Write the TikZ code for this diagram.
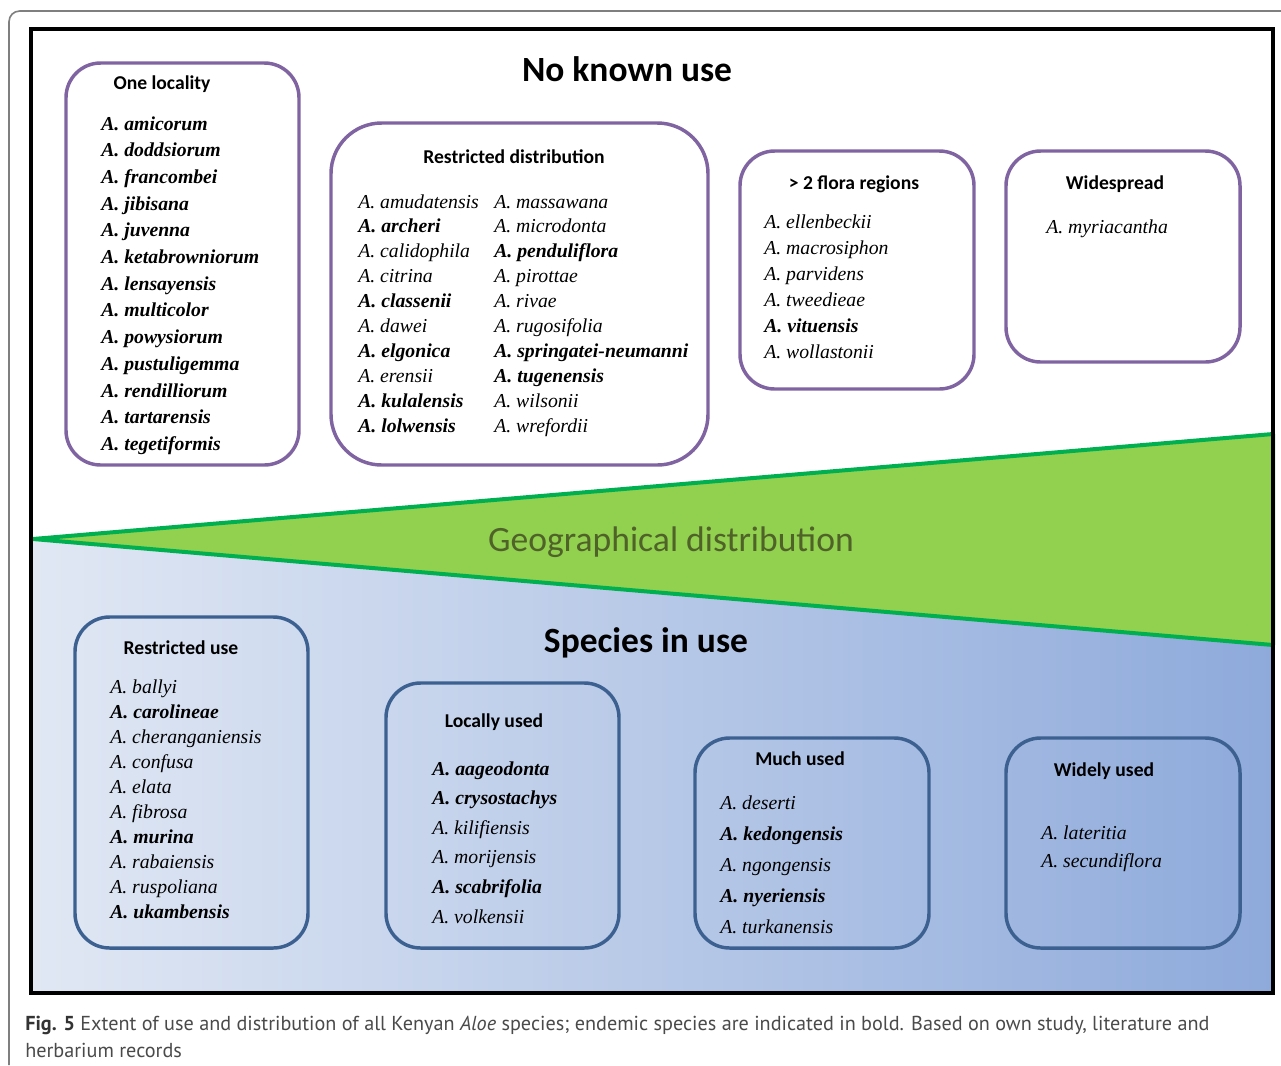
\documentclass[tikz,border=0pt]{standalone}
\usepackage{fontspec}
\setmainfont{Liberation Serif}
\newfontfamily\spf{Liberation Serif}
\newfontfamily\hdf{Carlito}
\newfontfamily\capf{PT Sans}
\definecolor{boxpurple}{HTML}{8064A2}
\definecolor{boxblue}{HTML}{3C6191}
\definecolor{geofill}{HTML}{92D050}
\definecolor{geoline}{HTML}{00B050}
\definecolor{useleft}{HTML}{E1E8F4}
\definecolor{useright}{HTML}{8EAADB}
\definecolor{geotext}{HTML}{4F6228}
\definecolor{framegray}{HTML}{7F7F7F}
\definecolor{captext}{HTML}{4A4A4A}
\definecolor{capbold}{HTML}{333333}
\newcommand\bsp[1]{{\bfseries #1}}
\begin{document}
\begin{tikzpicture}[x=0.75pt,y=-0.75pt,
  pbox/.style={draw=boxpurple, line width=2.6pt, rounded corners=26pt, inner sep=0pt},
  bbox/.style={draw=boxblue, line width=2.6pt, rounded corners=26pt, inner sep=0pt},
  hd/.style={anchor=base, inner sep=0pt, font=\hdf\bfseries\fontsize{14.7}{17}\selectfont},
  spc/.style={anchor=base west, inner sep=0pt, font=\spf\itshape\fontsize{14.8}{17}\selectfont},
  spb/.style={anchor=base west, inner sep=0pt, font=\spf\bfseries\itshape\fontsize{14.8}{17}\selectfont},
  ttl/.style={anchor=base, inner sep=0pt, font=\hdf\bfseries\fontsize{26.6}{30}\selectfont},
  captxt/.style={anchor=base west, inner sep=0pt, text=captext, font=\capf\fontsize{15.15}{17}\selectfont}]
\useasboundingbox (0,0) rectangle (1281,1065);
\fill[white] (0,0) rectangle (1281,1065);
% outer thin frame
\draw[framegray, line width=1.2pt, rounded corners=8pt] (1281,11) -- (9,11) -- (9,1065);
% blue gradient area
\shade[left color=useleft, right color=useright] (31,539) -- (1273,645) -- (1273,993) -- (31,993) -- cycle;
% green triangle
\draw[fill=geofill, draw=geoline, line width=3pt, line join=bevel] (33,539) -- (1273,434) -- (1273,645) -- cycle;
\node[anchor=base, inner sep=0pt, text=geotext, font=\hdf\fontsize{26.7}{30}\selectfont] (geo) at (671,551) {Geographical distribution};
% main frame
\draw[line width=3pt] (31,29) rectangle (1273,993);
% titles
\node[ttl] (noknown) at (627,81) {No known use};
\node[ttl] (inuse) at (646,652) {Species in use};
% boxes, top
\node[pbox, minimum width=174.75pt, minimum height=301.5pt] (onebox) at (182.5,264) {};
\node[pbox, rounded corners=38pt, minimum width=282.75pt, minimum height=256.5pt] (restbox) at (519.5,294) {};
\node[pbox, minimum width=175.5pt, minimum height=178.5pt] (florabox) at (857,270) {};
\node[pbox, minimum width=175.5pt, minimum height=158.25pt] (widebox) at (1123,256.5) {};
% boxes, bottom
\node[bbox, minimum width=174.75pt, minimum height=248.25pt] (rusebox) at (191.5,782.5) {};
\node[bbox, minimum width=174.75pt, minimum height=198.75pt] (localbox) at (502.5,815.5) {};
\node[bbox, minimum width=175.5pt, minimum height=157.5pt] (muchbox) at (812,843) {};
\node[bbox, minimum width=175.5pt, minimum height=157.5pt] (widelybox) at (1123,843) {};
% headings
\node[hd] (h1) at (162,89) {One locality};
\node[hd] (h2) at (514,163) {Restricted distribution};
\node[hd] (h3) at (854,189) {> 2 flora regions};
\node[hd] (h4) at (1115,189) {Widespread};
\node[hd] (h5) at (181,654) {Restricted use};
\node[hd] (h6) at (494,727) {Locally used};
\node[hd] (h7) at (800,765) {Much used};
\node[hd] (h8) at (1104,776) {Widely used};
% species lists
\foreach \s [count=\i] in {A. amicorum, A. doddsiorum, A. francombei, A. jibisana, A. juvenna, A. ketabrowniorum, A. lensayensis, A. multicolor, A. powysiorum, A. pustuligemma, A. rendilliorum, A. tartarensis, A. tegetiformis}
  \node[spb] (ol\i) at (101,{130+26.7*(\i-1)}) {\s};
\foreach \s [count=\i] in {A. amudatensis, \bsp{A. archeri}, A. calidophila, A. citrina, \bsp{A. classenii}, A. dawei, \bsp{A. elgonica}, A. erensii, \bsp{A. kulalensis}, \bsp{A. lolwensis}}
  \node[spc] (rda\i) at (358,{208+24.9*(\i-1)}) {\s};
\foreach \s [count=\i] in {A. massawana, A. microdonta, \bsp{A. penduliflora}, A. pirottae, A. rivae, A. rugosifolia, \bsp{A. springatei-neumanni}, \bsp{A. tugenensis}, A. wilsonii, A. wrefordii}
  \node[spc] (rdb\i) at (494,{208+24.9*(\i-1)}) {\s};
\foreach \s [count=\i] in {A. ellenbeckii, A. macrosiphon, A. parvidens, A. tweedieae, \bsp{A. vituensis}, A. wollastonii}
  \node[spc] (fl\i) at (764,{228+26*(\i-1)}) {\s};
\node[spc] (ws1) at (1046,233) {A. myriacantha};
\foreach \s [count=\i] in {A. ballyi, \bsp{A. carolineae}, A. cheranganiensis, A. confusa, A. elata, A. fibrosa, \bsp{A. murina}, A. rabaiensis, A. ruspoliana, \bsp{A. ukambensis}}
  \node[spc] (ru\i) at (110,{693+25*(\i-1)}) {\s};
\foreach \s [count=\i] in {\bsp{A. aageodonta}, \bsp{A. crysostachys}, A. kilifiensis, A. morijensis, \bsp{A. scabrifolia}, A. volkensii}
  \node[spc] (lu\i) at (432,{775+29.6*(\i-1)}) {\s};
\foreach \s [count=\i] in {A. deserti, \bsp{A. kedongensis}, A. ngongensis, \bsp{A. nyeriensis}, A. turkanensis}
  \node[spc] (mu\i) at (720,{809+31*(\i-1)}) {\s};
\node[spc] (wu1) at (1041,839) {A. lateritia};
\node[spc] (wu2) at (1041,867) {A. secundiflora};
% caption
\node[captxt] (cap1) at (25,1030) {\textcolor{capbold}{\bfseries Fig. 5} Extent of use and distribution of all Kenyan \textit{Aloe} species; endemic species are indicated in bold. Based on own study, literature and};
\node[captxt] (cap2) at (25,1057) {herbarium records};
\end{tikzpicture}
\end{document}
